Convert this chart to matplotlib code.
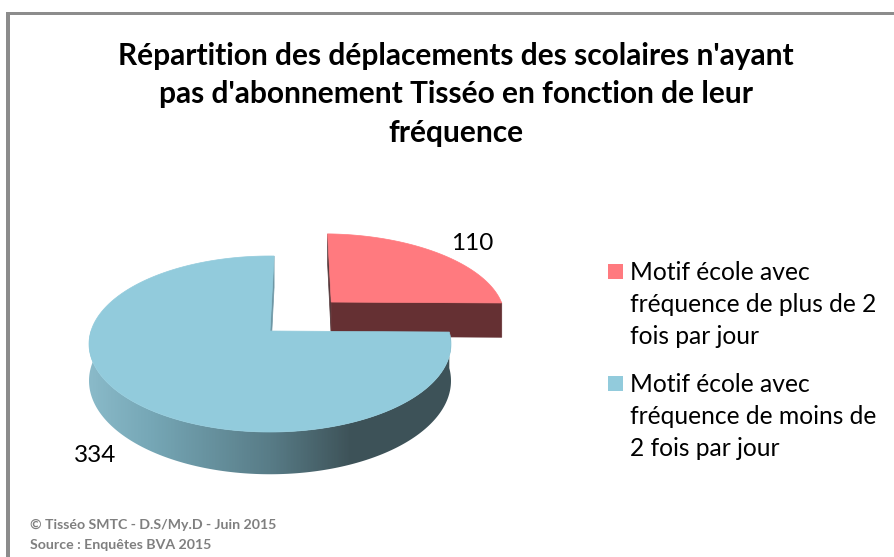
import numpy as np
import matplotlib
matplotlib.use('Agg')
import matplotlib.pyplot as plt
from matplotlib.colors import LinearSegmentedColormap
from matplotlib.patches import Polygon, Rectangle

# Data
values = [110, 334]
value_labels = ['110', '334']
legend_labels = ['Motif école avec\nfréquence de plus de 2\nfois par jour',
                 'Motif école avec\nfréquence de moins de\n2 fois par jour']
title_lines = ["Répartition des déplacements des scolaires n'ayant",
               "pas d'abonnement Tisséo en fonction de leur",
               "fréquence"]
footer_lines = ['© Tisséo SMTC - D.S/My.D - Juin 2015', 'Source : Enquêtes BVA 2015']

plt.rcParams['font.family'] = ['Lato', 'DejaVu Sans']

# Pie geometry, in pixels of the 894x557 picture
CX, CY, RX = 270, 331, 179
PERSP, TILT, DEPTH = 0.1477, -37.2, 36
START = 88.5
EXPLODE = (0.36, 0.354)


def project(u, v, down=0):
    # disc coordinates -> picture, back of the disc is further away
    w = 1 + PERSP * v
    return CX + RX * u / w, (CY + TILT * v + down) / w


def arc(t1, t2, n=200):
    t = np.radians(np.linspace(t1, t2, n))
    return np.cos(t), np.sin(t)


def wall(ax, u, v, color):
    x1, y1 = project(u, v)
    x2, y2 = project(u, v, DEPTH)
    pts = np.column_stack([np.r_[x1, x2[::-1]], np.r_[y1, y2[::-1]]])
    return ax.add_patch(Polygon(pts, closed=True, fc=color, ec=color, lw=0.5))


def main():
    fig = plt.figure(figsize=(8.94, 5.57), dpi=100)
    ax = fig.add_axes([0, 0, 1, 1])
    ax.set_xlim(0, 894)
    ax.set_ylim(557, 0)
    ax.axis('off')

    # Frame
    ax.add_patch(Rectangle((6, 11.5), 890, 3.5, fc='#8c8c8c', ec='none'))
    ax.add_patch(Rectangle((6, 11.5), 4, 550, fc='#8c8c8c', ec='none'))

    sweep = [v / sum(values) * 360 for v in values]

    # Red slice, pulled out towards the back right
    ex, ey = EXPLODE
    t1, t2 = START - sweep[0], START
    u, v = arc(t1, t2)
    wall(ax, np.array([ex, ex + np.cos(np.radians(t2))]),
         np.array([ey, ey + np.sin(np.radians(t2))]), '#55393b')
    wall(ax, np.array([ex, ex + np.cos(np.radians(t1))]),
         np.array([ey, ey + np.sin(np.radians(t1))]), '#653033')
    x, y = project(np.r_[ex, ex + u], np.r_[ey, ey + v])
    ax.add_patch(Polygon(np.column_stack([x, y]), closed=True, fc='#ff7a7f', ec='#ff7a7f', lw=0.5))

    # Blue slice: side shaded by a horizontal gradient, then the top
    t1, t2 = START, START + sweep[1]
    u, v = arc(t1, t2, 500)
    front = v < 0.3
    x1, y1 = project(u[front], v[front])
    x2, y2 = project(u[front], v[front], DEPTH)
    side = Polygon(np.column_stack([np.r_[x1, x2[::-1]], np.r_[y1, y2[::-1]]]),
                   closed=True, fc='none', ec='none', transform=ax.transData)
    ax.add_patch(side)
    cmap = LinearSegmentedColormap.from_list('side', [(0, '#8abac9'), (0.17, '#76a7b6'), (0.5, '#587c87'),
                                                      (0.72, '#3e5359'), (1, '#3d5258')])
    img = ax.imshow(np.linspace(0, 1, 364)[None, :], cmap=cmap, extent=(88, 452, 480, 330),
                    aspect='auto', interpolation='bilinear')
    img.set_clip_path(side)
    ax.set_xlim(0, 894)
    ax.set_ylim(557, 0)
    wall(ax, np.array([0, np.cos(np.radians(t1))]), np.array([0, np.sin(np.radians(t1))]), '#6e97a5')
    x, y = project(np.r_[0, u], np.r_[0, v])
    ax.add_patch(Polygon(np.column_stack([x, y]), closed=True, fc='#92cbdc', ec='#92cbdc', lw=0.5))

    # Texts
    for line, ty in zip(title_lines, [56, 94, 133]):
        ax.text(456, ty, line, fontsize=21.5, fontweight='bold', ha='center', va='center', color='black')
    ax.text(472, 244, value_labels[0], fontsize=17.5, ha='center', va='center', color='black')
    ax.text(95, 455, value_labels[1], fontsize=17.5, ha='center', va='center', color='black')

    # Legend
    for label, col, sy in zip(legend_labels, ['#ff7a7f', '#92cbdc'], [264, 376]):
        ax.add_patch(Rectangle((608, sy), 15, 15, fc=col, ec='none'))
        for k, line in enumerate(label.split('\n')):
            ax.text(630, sy + 9 + k * 32, line, fontsize=17.7, ha='left', va='center', color='black')

    for line, ty in zip(footer_lines, [525, 545]):
        ax.text(30, ty, line, fontsize=10.2, fontweight='bold', ha='left', va='center', color='#7f7f7f')

    fig.savefig('out.png', dpi=100)


if __name__ == "__main__":
    main()
